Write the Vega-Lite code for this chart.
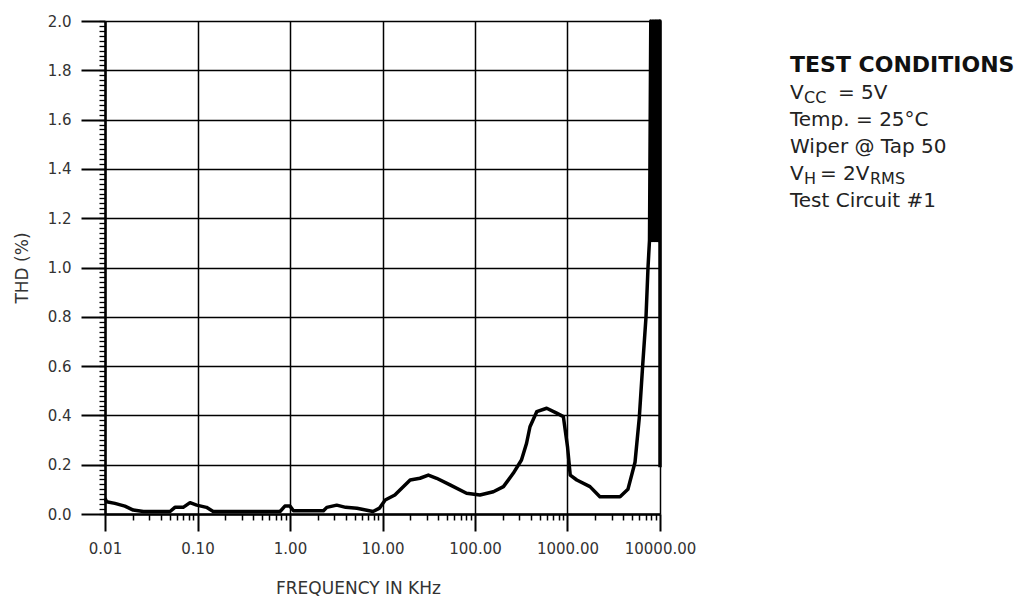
{
  "$schema": "https://vega.github.io/schema/vega-lite/v6.json",
  "background": "white",
  "padding": {"left": 13, "top": 14, "right": 5, "bottom": 5},
  "config": {
    "view": {"stroke": null},
    "font": "DejaVu Sans",
    "axis": {"labelFont": "DejaVu Sans", "titleFont": "DejaVu Sans"}
  },
  "spacing": 94,
  "hconcat": [
    {
      "width": 555,
      "height": 493,
      "data": {
        "values": [
          {"i": 1, "freq": 0.01, "thd": 0.064},
          {"i": 2, "freq": 0.0104, "thd": 0.05},
          {"i": 3, "freq": 0.0128, "thd": 0.043},
          {"i": 4, "freq": 0.0164, "thd": 0.032},
          {"i": 5, "freq": 0.0202, "thd": 0.016},
          {"i": 6, "freq": 0.026, "thd": 0.01},
          {"i": 7, "freq": 0.0505, "thd": 0.01},
          {"i": 8, "freq": 0.057, "thd": 0.027},
          {"i": 9, "freq": 0.07, "thd": 0.027},
          {"i": 10, "freq": 0.083, "thd": 0.046},
          {"i": 11, "freq": 0.098, "thd": 0.036},
          {"i": 12, "freq": 0.125, "thd": 0.027},
          {"i": 13, "freq": 0.148, "thd": 0.01},
          {"i": 14, "freq": 0.78, "thd": 0.01},
          {"i": 15, "freq": 0.88, "thd": 0.032},
          {"i": 16, "freq": 1.0, "thd": 0.032},
          {"i": 17, "freq": 1.09, "thd": 0.013},
          {"i": 18, "freq": 2.3, "thd": 0.013},
          {"i": 19, "freq": 2.5, "thd": 0.027},
          {"i": 20, "freq": 3.2, "thd": 0.036},
          {"i": 21, "freq": 4.0, "thd": 0.027},
          {"i": 22, "freq": 5.3, "thd": 0.023},
          {"i": 23, "freq": 7.9, "thd": 0.01},
          {"i": 24, "freq": 9.3, "thd": 0.024},
          {"i": 25, "freq": 10.7, "thd": 0.057},
          {"i": 26, "freq": 13.6, "thd": 0.077},
          {"i": 27, "freq": 19.9, "thd": 0.138},
          {"i": 28, "freq": 25.4, "thd": 0.145},
          {"i": 29, "freq": 31.3, "thd": 0.158},
          {"i": 30, "freq": 38.5, "thd": 0.145},
          {"i": 31, "freq": 53.7, "thd": 0.118},
          {"i": 32, "freq": 81, "thd": 0.084},
          {"i": 33, "freq": 113, "thd": 0.077},
          {"i": 34, "freq": 158, "thd": 0.09},
          {"i": 35, "freq": 203, "thd": 0.111},
          {"i": 36, "freq": 259, "thd": 0.165},
          {"i": 37, "freq": 318, "thd": 0.219},
          {"i": 38, "freq": 361, "thd": 0.287},
          {"i": 39, "freq": 393, "thd": 0.354},
          {"i": 40, "freq": 465, "thd": 0.415},
          {"i": 41, "freq": 596, "thd": 0.429},
          {"i": 42, "freq": 764, "thd": 0.409},
          {"i": 43, "freq": 902, "thd": 0.395},
          {"i": 44, "freq": 1000, "thd": 0.273},
          {"i": 45, "freq": 1070, "thd": 0.158},
          {"i": 46, "freq": 1260, "thd": 0.138},
          {"i": 47, "freq": 1750, "thd": 0.111},
          {"i": 48, "freq": 2240, "thd": 0.07},
          {"i": 49, "freq": 3700, "thd": 0.07},
          {"i": 50, "freq": 4500, "thd": 0.1},
          {"i": 51, "freq": 5370, "thd": 0.21},
          {"i": 52, "freq": 5970, "thd": 0.39},
          {"i": 53, "freq": 6490, "thd": 0.6},
          {"i": 54, "freq": 7060, "thd": 0.8},
          {"i": 55, "freq": 7420, "thd": 1.0},
          {"i": 56, "freq": 7700, "thd": 1.11},
          {"i": 57, "freq": 7950, "thd": 2.0},
          {"i": 58, "freq": 8200, "thd": 1.11},
          {"i": 59, "freq": 8400, "thd": 2.0},
          {"i": 60, "freq": 8630, "thd": 1.11},
          {"i": 61, "freq": 8850, "thd": 2.0},
          {"i": 62, "freq": 9060, "thd": 1.11},
          {"i": 63, "freq": 9280, "thd": 2.0},
          {"i": 64, "freq": 9510, "thd": 1.11},
          {"i": 65, "freq": 9750, "thd": 2.0},
          {"i": 66, "freq": 10000, "thd": 2.0},
          {"i": 67, "freq": 10000, "thd": 0.19}
        ]
      },
      "encoding": {
        "x": {"field": "freq", "type": "quantitative", "scale": {"type": "log", "domain": [0.01, 10000]}},
        "y": {"field": "thd", "type": "quantitative", "scale": {"domain": [0, 2]}}
      },
      "layer": [
        {
          "mark": {"type": "point", "opacity": 0},
          "encoding": {
            "x": {
              "field": "freq", "type": "quantitative",
              "axis": {
                "orient": "bottom",
                "values": [0.02, 0.03, 0.04, 0.05, 0.06, 0.07, 0.08, 0.09,
                           0.2, 0.3, 0.4, 0.5, 0.6, 0.7, 0.8, 0.9,
                           2, 3, 4, 5, 6, 7, 8, 9,
                           20, 30, 40, 50, 60, 70, 80, 90,
                           200, 300, 400, 500, 600, 700, 800, 900,
                           2000, 3000, 4000, 5000, 6000, 7000, 8000, 9000],
                "labels": false, "domain": false, "grid": false, "title": null,
                "tickSize": 6, "tickWidth": 1.5, "tickColor": "black"
              }
            },
            "y": {
              "field": "thd", "type": "quantitative",
              "axis": {
                "orient": "left", "tickCount": 100,
                "labels": false, "domain": false, "grid": false, "title": null,
                "tickSize": 6, "tickWidth": 1.3, "tickColor": "black"
              }
            }
          }
        },
        {
          "mark": {"type": "line", "color": "black", "strokeWidth": 3.5, "strokeJoin": "round", "strokeCap": "butt"},
          "encoding": {
            "x": {
              "field": "freq", "type": "quantitative",
              "axis": {
                "orient": "bottom",
                "values": [0.01, 0.1, 1, 10, 100, 1000, 10000],
                "format": ".2f",
                "labelFlush": false, "labelOverlap": false,
                "labelFontSize": 15, "labelColor": "#333", "labelPadding": 10,
                "ticks": true, "tickSize": 17, "tickWidth": 2, "tickColor": "black",
                "grid": true, "gridColor": "black", "gridWidth": 1.5, "gridOpacity": 1,
                "domain": true, "domainColor": "black", "domainWidth": 2.5,
                "title": "FREQUENCY IN KHz", "titleFontSize": 17, "titleFontWeight": "normal",
                "titleColor": "#333", "titlePadding": 24, "titleX": 253
              }
            },
            "y": {
              "field": "thd", "type": "quantitative",
              "axis": {
                "orient": "left",
                "values": [0, 0.2, 0.4, 0.6, 0.8, 1.0, 1.2, 1.4, 1.6, 1.8, 2.0],
                "format": ".1f",
                "labelFlush": false, "labelOverlap": false,
                "labelFontSize": 15, "labelColor": "#333", "labelPadding": 10,
                "ticks": true, "tickSize": 24, "tickWidth": 2, "tickColor": "black",
                "grid": true, "gridColor": "black", "gridWidth": 1.5, "gridOpacity": 1,
                "domain": true, "domainColor": "black", "domainWidth": 2.5,
                "title": "THD (%)", "titleFontSize": 17, "titleFontWeight": "normal",
                "titleColor": "#333", "titlePadding": 16
              }
            },
            "order": {"field": "i", "type": "quantitative"}
          }
        }
      ],
      "resolve": {"axis": {"x": "independent", "y": "independent"}}
    },
    {
      "width": 240,
      "height": 493,
      "data": {
        "values": [
          {"line": 0, "part": "head", "text": "TEST CONDITIONS"},
          {"line": 1, "part": "lead", "text": "V"},
          {"line": 1, "part": "sub", "text": "CC"},
          {"line": 1, "part": "tail", "text": "= 5V"},
          {"line": 2, "part": "lead", "text": "Temp. = 25°C"},
          {"line": 3, "part": "lead", "text": "Wiper @ Tap 50"},
          {"line": 4, "part": "lead", "text": "V"},
          {"line": 4, "part": "sub", "text": "H"},
          {"line": 4, "part": "tail", "text": "= 2V"},
          {"line": 4, "part": "sub2", "text": "RMS"},
          {"line": 5, "part": "lead", "text": "Test Circuit #1"}
        ]
      },
      "encoding": {
        "x": {"datum": 0, "type": "quantitative", "scale": {"domain": [0, 1]}, "axis": null},
        "y": {"field": "line", "type": "quantitative", "scale": {"domain": [-1.9, 16.36], "reverse": true, "nice": false, "zero": false}, "axis": null},
        "text": {"field": "text"}
      },
      "layer": [
        {
          "transform": [{"filter": "datum.part === 'head'"}],
          "mark": {"type": "text", "align": "left", "baseline": "alphabetic", "fontSize": 22, "fontWeight": "bold", "color": "#111"}
        },
        {
          "transform": [{"filter": "datum.part === 'lead'"}],
          "mark": {"type": "text", "align": "left", "baseline": "alphabetic", "fontSize": 20, "color": "#222"}
        },
        {
          "transform": [{"filter": "datum.part === 'sub'"}],
          "mark": {"type": "text", "align": "left", "baseline": "alphabetic", "fontSize": 16, "color": "#222", "dx": 14, "dy": 4}
        },
        {
          "transform": [{"filter": "datum.part === 'tail' && datum.line === 1"}],
          "mark": {"type": "text", "align": "left", "baseline": "alphabetic", "fontSize": 20, "color": "#222", "dx": 48}
        },
        {
          "transform": [{"filter": "datum.part === 'tail' && datum.line === 4"}],
          "mark": {"type": "text", "align": "left", "baseline": "alphabetic", "fontSize": 20, "color": "#222", "dx": 30}
        },
        {
          "transform": [{"filter": "datum.part === 'sub2'"}],
          "mark": {"type": "text", "align": "left", "baseline": "alphabetic", "fontSize": 16, "color": "#222", "dx": 80, "dy": 4}
        }
      ]
    }
  ]
}
